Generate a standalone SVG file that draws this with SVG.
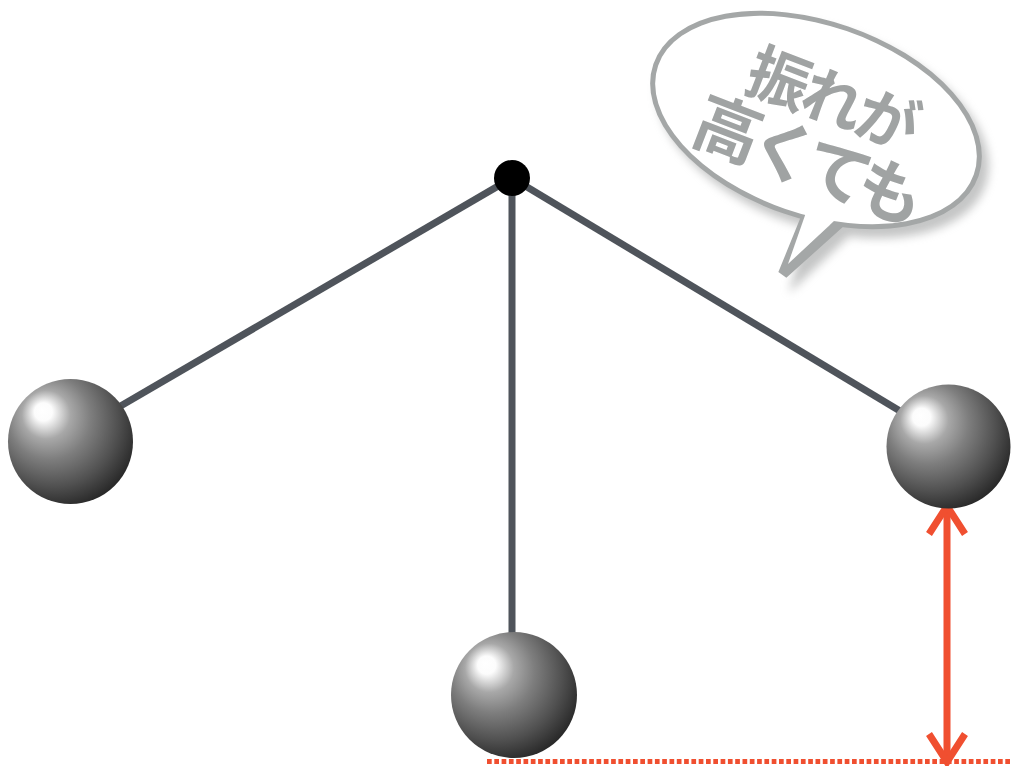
<svg xmlns="http://www.w3.org/2000/svg" width="1011" height="766" viewBox="0 0 1011 766">
  <defs>
    <radialGradient id="ballShade" cx="0.4" cy="0.38" r="0.72" fx="0.27" fy="0.25">
      <stop offset="0" stop-color="#ffffff"/>
      <stop offset="0.1" stop-color="#fcfcfc"/>
      <stop offset="0.27" stop-color="#a8a8a8"/>
      <stop offset="0.46" stop-color="#7e7e7e"/>
      <stop offset="0.72" stop-color="#505050"/>
      <stop offset="1" stop-color="#1a1a1a"/>
    </radialGradient>
    <filter id="bubbleShadow" x="-20%" y="-20%" width="140%" height="150%">
      <feGaussianBlur stdDeviation="5"/>
    </filter>
    <style>
      .string { stroke: #4f545b; stroke-width: 7; fill: none; }
      .ball { fill: url(#ballShade); }
      .measure { stroke: #f04f30; stroke-width: 7; fill: none; stroke-linecap: butt; stroke-linejoin: miter; }
      .baseline { stroke: #f04f30; stroke-width: 5; stroke-dasharray: 4.7 2.6; fill: none; }
      .bubble-line { fill: none; stroke: #a4a7a7; stroke-width: 10; stroke-linejoin: miter; }
      .bubble-fill { fill: #ffffff; stroke: none; }
      .bubble-text { font-family: "Noto Sans CJK JP", "Noto Sans", sans-serif; font-weight: 700; fill: #a0a3a3; text-anchor: middle; dominant-baseline: central; }
    </style>
  </defs>

  <!-- speech bubble -->
  <g id="bubble">
    <g filter="url(#bubbleShadow)" fill="#8a8c8c" opacity="0.5" transform="translate(7,9)">
      <ellipse cx="816" cy="120" rx="172" ry="99" transform="rotate(19 816 120)"/>
      <polygon points="803,205 858,212 782,284"/>
    </g>
    <ellipse class="bubble-line" cx="816" cy="120" rx="167" ry="94" transform="rotate(19 816 120)"/>
    <polygon class="bubble-line" points="809,210 851,213 783,274"/>
    <ellipse class="bubble-fill" cx="816" cy="120" rx="167" ry="94" transform="rotate(19 816 120)"/>
    <polygon class="bubble-fill" points="809,204 849,207 788,264"/>
    <text class="bubble-text" font-size="62" letter-spacing="-4" transform="translate(833 95) rotate(21)">振れが</text>
    <text class="bubble-text" font-size="67" letter-spacing="-7" transform="translate(808 155) rotate(21)">高くても</text>
  </g>

  <!-- strings from the pivot -->
  <g id="connectors">
    <line class="string" x1="512" y1="178" x2="100" y2="418"/>
    <line class="string" x1="512" y1="178" x2="512" y2="645"/>
    <line class="string" x1="512" y1="178" x2="915" y2="420"/>
    <!-- height measurement -->
    <line class="baseline" x1="487" y1="761.5" x2="1011" y2="761.5"/>
    <line class="measure" x1="947" y1="510" x2="947" y2="759"/>
    <polyline class="measure" points="929,534 947,506 965,534"/>
    <polyline class="measure" points="929,734 947,762 965,734"/>
  </g>

  <g id="pivot">
    <circle cx="512" cy="178" r="18" fill="#000"/>
  </g>
  <g id="ball-left">
    <circle class="ball" cx="70.5" cy="441.5" r="62.5"/>
  </g>
  <g id="ball-center">
    <circle class="ball" cx="514" cy="695" r="63"/>
  </g>
  <g id="ball-right">
    <circle class="ball" cx="948.5" cy="446.5" r="62"/>
  </g>
</svg>
